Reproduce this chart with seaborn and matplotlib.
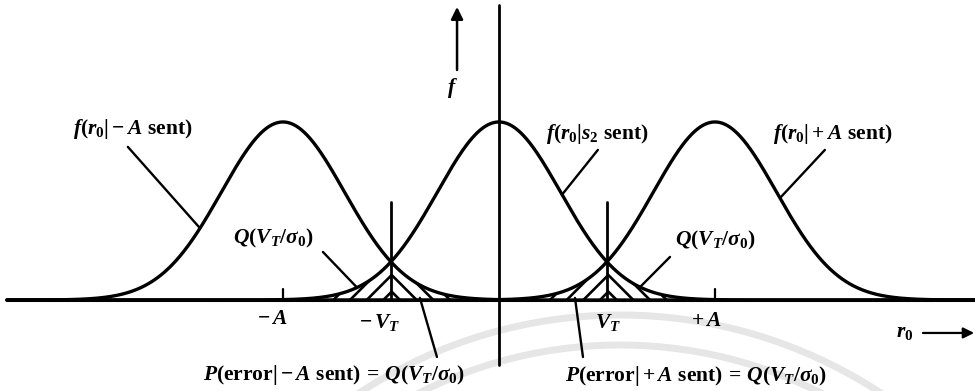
import numpy as np
import pandas as pd
import seaborn as sns
import matplotlib.pyplot as plt
from matplotlib.patches import Arc
from matplotlib.transforms import IdentityTransform

# Conditional densities of the detector output r0 for the three ternary symbols
curve_names = ["-A sent", "s2 sent", "+A sent"]
curve_means = [-1.0, 0.0, 1.0]      # -A, 0, +A
noise_sigma = 0.285                 # sigma_0 relative to A
threshold = 0.5                     # V_T relative to A

sns.set_theme(style="white")
plt.rcParams.update({
    "mathtext.fontset": "custom",
    "mathtext.rm": "Liberation Serif:bold",
    "mathtext.it": "Liberation Serif:italic:bold",
    "mathtext.bf": "Liberation Serif:bold",
    "hatch.linewidth": 1.9,
})
plt.rcParams["font.family"] = ["Liberation Serif", "DejaVu Serif"]

fig = plt.figure(figsize=(9.75, 3.91), dpi=100)
ax = fig.add_axes([0, 0, 1, 1])
x_lo, x_hi = -2.310, 2.204
y_lo, y_hi = -0.511, 1.685
ax.set_xlim(x_lo, x_hi)
ax.set_ylim(y_lo, y_hi)
ax.axis("off")

# faint background seal
for radius in (475, 445):
    ax.add_patch(Arc((620, -399), 2 * radius, 2 * radius, theta1=25, theta2=155,
                     transform=IdentityTransform(), color="#e6e6e6", lw=5, zorder=0))


def density(x, mu):
    return np.exp(-(x - mu) ** 2 / (2 * noise_sigma ** 2))


r0 = np.linspace(-2.278, x_hi, 1500)
df = pd.concat(
    [pd.DataFrame({"r0": r0, "f": density(r0, m), "curve": n})
     for n, m in zip(curve_names, curve_means)],
    ignore_index=True,
)
sns.lineplot(data=df, x="r0", y="f", hue="curve", palette=["black"] * 3,
             legend=False, lw=2.4, ax=ax, zorder=3)

# baseline and vertical axis
ax.plot([-2.278, x_hi], [0, 0], color="black", lw=2.2, zorder=3)
ax.plot([0, 0], [-0.365, 1.657], color="black", lw=2.0, zorder=3)

# threshold markers and +/-A ticks
for v in (-threshold, threshold):
    ax.plot([v, v], [0, 0.551], color="black", lw=2.0, zorder=3)
for a in (curve_means[0], curve_means[2]):
    ax.plot([a, a], [0, 0.062], color="black", lw=1.6, zorder=3)

# hatched error tails
def hatch_tail(mu, a, b, pattern):
    xs = np.linspace(a, b, 300)
    ax.fill_between(xs, 0, density(xs, mu), facecolor="none", edgecolor="black",
                    hatch=pattern, linewidth=0, zorder=2)

hatch_tail(curve_means[1], -1.4, -threshold, "//")
hatch_tail(curve_means[0], -threshold, 0.25, "\\\\")
hatch_tail(curve_means[2], -0.25, threshold, "//")
hatch_tail(curve_means[1], threshold, 1.4, "\\\\")

fs = 15.5
txt = dict(fontsize=fs, ha="center", va="center", color="black", zorder=4)
lead = dict(arrowstyle="-", lw=1.7, color="black", shrinkA=0, shrinkB=0)

# curve labels with leader lines
ax.text(-1.694, 0.961, r"$f(r_0|-A\ \mathrm{sent})$", **txt)
ax.annotate("", xy=(-1.384, density(-1.384, curve_means[0])), xytext=(-1.718, 0.860),
            arrowprops=lead)
ax.text(0.454, 0.933, r"$f(r_0|s_2\ \mathrm{sent})$", **txt)
ax.annotate("", xy=(0.292, density(0.292, curve_means[1])), xytext=(0.458, 0.843),
            arrowprops=lead)
ax.text(1.546, 0.933, r"$f(r_0|+A\ \mathrm{sent})$", **txt)
ax.annotate("", xy=(1.301, density(1.301, curve_means[2])), xytext=(1.509, 0.843),
            arrowprops=lead)

# tail probability labels
ax.text(-1.046, 0.343, r"$Q(V_T/\sigma_0)$", **txt)
ax.annotate("", xy=(-0.657, density(-0.657, curve_means[1])), xytext=(-0.815, 0.270),
            arrowprops=lead)
ax.text(1.0, 0.337, r"$Q(V_T/\sigma_0)$", **txt)
ax.annotate("", xy=(0.653, density(0.653, curve_means[1])), xytext=(0.792, 0.242),
            arrowprops=lead)

ax.text(-0.764, -0.421, r"$P(\mathrm{error}|-A\ \mathrm{sent})\,=\,Q(V_T/\sigma_0)$", **txt)
ax.annotate("", xy=(-0.366, 0.012), xytext=(-0.287, -0.320), arrowprops=lead)
ax.text(0.912, -0.427, r"$P(\mathrm{error}|+A\ \mathrm{sent})\,=\,Q(V_T/\sigma_0)$", **txt)
ax.annotate("", xy=(0.352, 0.012), xytext=(0.389, -0.320), arrowprops=lead)

# axis position labels
ax.text(-1.051, -0.112, r"$-\,A$", **txt)
ax.text(-0.551, -0.124, r"$-\,V_T$", **txt)
ax.text(0.505, -0.124, r"$V_T$", **txt)
ax.text(0.958, -0.118, r"$+\,A$", **txt)

# axis names with arrows
ax.text(1.88, -0.180, r"$r_0$", **txt)
ax.annotate("", xy=(2.20, -0.185), xytext=(1.963, -0.185),
            arrowprops=dict(arrowstyle="-|>", lw=1.6, color="black",
                            mutation_scale=16, shrinkA=0, shrinkB=0))
ax.text(-0.213, 1.191, r"$f$", **txt)
ax.annotate("", xy=(-0.194, 1.646), xytext=(-0.194, 1.292),
            arrowprops=dict(arrowstyle="-|>", lw=1.8, color="black",
                            mutation_scale=18, shrinkA=0, shrinkB=0))

fig.savefig("out.png", dpi=100, facecolor="white")
